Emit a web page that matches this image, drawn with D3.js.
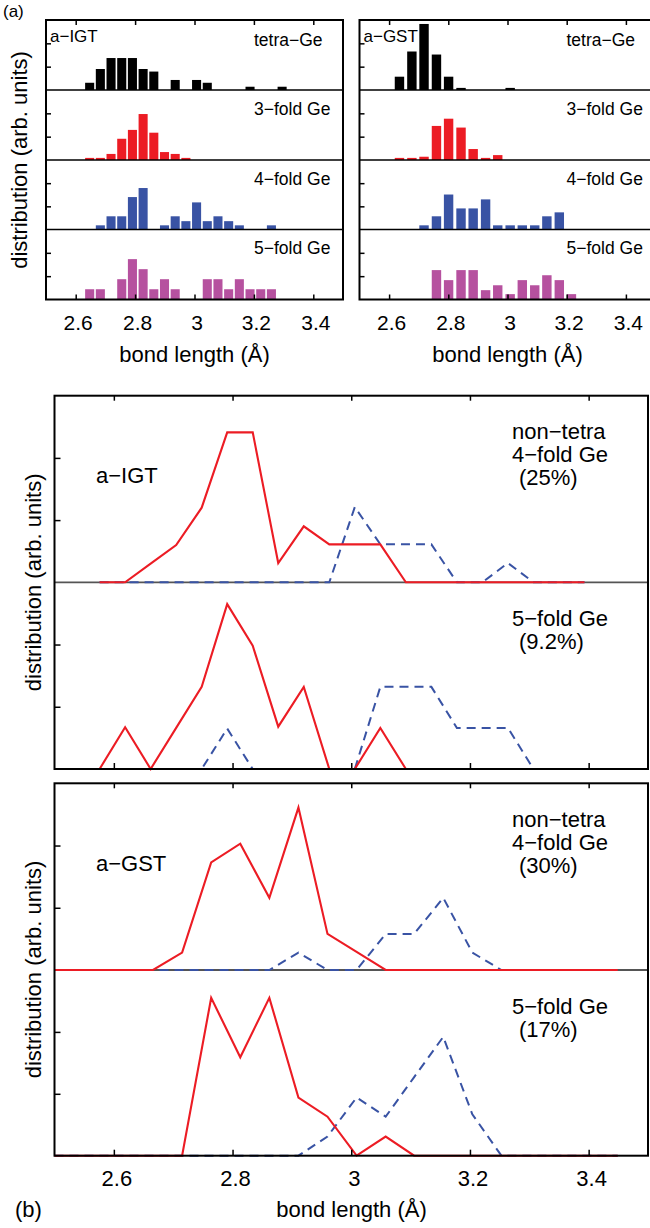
<!DOCTYPE html>
<html><head><meta charset="utf-8">
<script src="https://cdn.jsdelivr.net/npm/d3@7"></script>
<style>
body{margin:0;background:#fff}
svg{display:block;font-family:"Liberation Sans",Arial,Helvetica,sans-serif}
</style>
</head><body>
<script>
// ================= DATA =================
const xTicks = [2.6, 2.8, 3.0, 3.2, 3.4];
const yTicks = [1, 2];
const subLabelsA = ["tetra−Ge", "3−fold Ge", "4−fold Ge", "5−fold Ge"];

// (a) a-IGT histograms
const igtBins   = [2.647,2.683,2.719,2.755,2.791,2.827,2.863,2.899,2.935,2.971,3.007,3.043,3.079,3.115,3.151,3.187,3.223,3.259,3.295];
const igtTetra  = [0.31,0.90,1.37,1.37,1.37,0.90,0.79,0,0.43,0,0.43,0.31,0,0,0,0.14,0,0,0.14];
const igtThree  = [0.09,0.09,0.26,0.91,1.29,1.97,1.17,0.34,0.26,0.09,0,0,0,0,0,0,0,0,0];
const igtFour   = [0,0.18,0.57,0.57,1.40,1.79,0,0.18,0.57,0.36,1.17,0.36,0.57,0.36,0.18,0,0,0.18,0];
const igtFive   = [0.44,0.44,0,0.87,1.73,1.30,0.44,0.87,0.44,0,0,0.87,0.87,0.44,0.87,0.44,0.44,0.44,0];

// (a) a-GST histograms
const gstBins   = [2.635,2.677,2.718,2.760,2.801,2.843,2.884,2.926,2.967,3.009,3.050,3.092,3.133,3.175,3.216];
const gstTetra  = [0.57,1.65,2.83,1.52,0.57,0.09,0,0,0,0.09,0,0,0,0,0];
const gstThree  = [0.09,0.09,0.14,1.46,1.77,1.39,0.47,0.09,0.21,0,0,0,0,0,0];
const gstFour   = [0,0,0.18,0.57,1.51,0.91,0.91,1.30,0.18,0.18,0.18,0.18,0.57,0.74,0];
const gstFive   = [0,0,0,1.26,0.83,1.26,1.26,0.40,0.61,0.23,0.83,0.61,1.04,0.83,0.23];

// (b) a-IGT curves
const igtGrid          = [2.576,2.619,2.662,2.705,2.748,2.791,2.834,2.877,2.920,2.963,3.006,3.049,3.092,3.135,3.178,3.221,3.264,3.307,3.350,3.393];
const igtNonTetraRed   = [0,0,0.30,0.60,1.20,2.41,2.41,0.31,0.90,0.61,0.61,0.61,0,0,0,0,0,0,0,0];
const igtNonTetraBlue  = [0,0,0,0,0,0,0,0,0,0,1.21,0.61,0.61,0.61,0,0,0.31,0,0,0];
const igtFiveRed       = [0,0.67,0,0.66,1.32,2.65,1.98,0.68,1.32,0,0,0.66,0,0,0,0,0,0,0,0];
const igtFiveBlue      = [0,0,0,0,0,0.65,0,0,0,0,0,1.32,1.32,1.32,0.66,0.66,0.66,0,0,0];

// (b) a-GST curves
const gstGrid          = [2.500,2.568,2.617,2.666,2.715,2.764,2.813,2.862,2.911,2.960,3.009,3.058,3.106,3.155,3.204,3.253,3.302,3.351,3.400,3.449];
const gstNonTetraRed   = [0,0,0,0,0.28,1.73,2.03,1.16,2.61,0.58,0.29,0,0,0,0,0,0,0,0,0];
const gstNonTetraBlue  = [0,0,0,0,0,0,0,0,0.28,0,0,0.58,0.58,1.16,0.28,0,0,0,0,0];
const gstFiveRed       = [0,0,0,0,0,2.55,1.59,2.55,0.94,0.63,0,0.31,0,0,0,0,0,0,0,0];
const gstFiveBlue      = [0,0,0,0,0,0,0,0,0,0.31,0.94,0.63,1.27,1.92,0.67,0,0,0,0,0];

// ================= STYLE =================
const colA = ["#000000", "#ec1c24", "#3953a4", "#b6519f"];
const RED = "#ec1c24", BLUE = "#3953a4";
const W = 650, H = 1228;

const svg = d3.select("body").append("svg").attr("width", W).attr("height", H);
svg.append("rect").attr("width", W).attr("height", H).attr("fill", "#fff");

const fmt = d => String(+d.toFixed(1));

// ================= PANEL (a) =================
const aTops = [20, 90, 160, 229.5], aBottoms = [90, 160, 229.5, 299.5];

function drawA(xRange, bins, series, sample, labelX, barW) {
  const x = d3.scaleLinear().domain([2.5, 3.5]).range(xRange);
  const g = svg.append("g");
  series.forEach((vals, i) => {
    const y = d3.scaleLinear().domain([0, 3]).range([aBottoms[i], aTops[i]]);
    const data = bins.map((c, k) => ({c, v: vals[k]})).filter(d => d.v > 0);
    g.selectAll(null).data(data).enter().append("rect")
      .attr("x", d => x(d.c - barW / 2))
      .attr("width", d => x(d.c + barW / 2) - x(d.c - barW / 2))
      .attr("y", d => y(d.v))
      .attr("height", d => y(0) - y(d.v))
      .attr("fill", colA[i]);
    const ax = g.append("g").attr("transform", `translate(${xRange[0]},0)`)
      .call(d3.axisLeft(y).tickValues(yTicks).tickSize(-5).tickFormat(""));
    ax.select(".domain").remove();
    ax.selectAll("line").attr("stroke", "#000").attr("stroke-width", 1.5);
    g.append("text").attr("x", labelX).attr("y", [46, 115, 185, 254.3][i])
      .attr("font-size", 17.5).text(subLabelsA[i]);
    if (i > 0) g.append("line").attr("x1", xRange[0]).attr("x2", xRange[1])
      .attr("y1", aTops[i]).attr("y2", aTops[i]).attr("stroke", "#000").attr("stroke-width", 1.6);
  });
  const top = g.append("g").attr("transform", `translate(0,${aTops[0]})`)
    .call(d3.axisTop(x).tickValues(xTicks).tickSize(-5).tickFormat(""));
  top.select(".domain").remove();
  top.selectAll("line").attr("stroke", "#000").attr("stroke-width", 1.5);
  const bot = g.append("g").attr("transform", `translate(0,${aBottoms[3]})`)
    .call(d3.axisBottom(x).tickValues(xTicks).tickSize(-5).tickFormat(fmt));
  bot.select(".domain").remove();
  bot.selectAll("line").attr("stroke", "#000").attr("stroke-width", 1.5);
  bot.selectAll("text").attr("y", 30.5).attr("dy", 0).attr("x", 2)
    .attr("font-size", 21).attr("fill", "#000").attr("font-family", "Liberation Sans, Arial, sans-serif");
  g.append("rect").attr("x", xRange[0]).attr("y", aTops[0])
    .attr("width", xRange[1] - xRange[0]).attr("height", aBottoms[3] - aTops[0])
    .attr("fill", "none").attr("stroke", "#000").attr("stroke-width", 2);
  g.append("text").attr("x", xRange[0] + 4).attr("y", 41.5).attr("font-size", 17).text(sample);
  g.append("text").attr("x", (xRange[0] + xRange[1]) / 2).attr("y", 362)
    .attr("text-anchor", "middle").attr("font-size", 22).text("bond length (Å)");
}

drawA([46, 343], igtBins, [igtTetra, igtThree, igtFour, igtFive], "a−IGT", 254, 0.0305);
drawA([359.5, 655.5], gstBins, [gstTetra, gstThree, gstFour, gstFive], "a−GST", 566.5, 0.0318);

svg.append("text").attr("x", 3).attr("y", 17).attr("font-size", 17).text("(a)");
svg.append("text").attr("transform", "translate(19,160) rotate(-90)").attr("dy", "0.35em")
  .attr("text-anchor", "middle").attr("font-size", 22).text("distribution (arb. units)");

// ================= PANEL (b) =================
const xb = d3.scaleLinear().domain([2.5, 3.5]).range([54.5, 648]);
const line = (grid, ys) => d3.line().x((d, k) => xb(grid[k])).y(d => ys(d));

function drawB(top, sep, bottom, grid, upper, lower, sample, upperText, lowerText) {
  const g = svg.append("g");
  g.append("line").attr("x1", xb.range()[0]).attr("x2", xb.range()[1])
    .attr("y1", sep).attr("y2", sep).attr("stroke", "#555").attr("stroke-width", 1.8);
  const subs = [[top, sep, upper], [sep, bottom, lower]];
  subs.forEach(([t, b, pair]) => {
    const y = d3.scaleLinear().domain([0, 3]).range([b, t]);
    const ax = g.append("g").attr("transform", `translate(${xb.range()[0]},0)`)
      .call(d3.axisLeft(y).tickValues(yTicks).tickSize(-6).tickFormat(""));
    ax.select(".domain").remove();
    ax.selectAll("line").attr("stroke", "#000").attr("stroke-width", 1.5);
    g.append("path").datum(pair[1]).attr("d", line(grid, y)).attr("fill", "none")
      .attr("stroke", BLUE).attr("stroke-width", 2).attr("stroke-dasharray", "9,6");
    g.append("path").datum(pair[0]).attr("d", line(grid, y)).attr("fill", "none")
      .attr("stroke", RED).attr("stroke-width", 2.1);
  });
  const tp = g.append("g").attr("transform", `translate(0,${top})`)
    .call(d3.axisTop(xb).tickValues(xTicks).tickSize(-5).tickFormat(""));
  tp.select(".domain").remove();
  tp.selectAll("line").attr("stroke", "#000").attr("stroke-width", 1.5);
  const bt = g.append("g").attr("transform", `translate(0,${bottom})`)
    .call(d3.axisBottom(xb).tickValues(xTicks).tickSize(-6).tickFormat(""));
  bt.select(".domain").remove();
  bt.selectAll("line").attr("stroke", "#000").attr("stroke-width", 1.5);
  g.append("rect").attr("x", xb.range()[0]).attr("y", top)
    .attr("width", xb.range()[1] - xb.range()[0]).attr("height", bottom - top)
    .attr("fill", "none").attr("stroke", "#000").attr("stroke-width", 2);
  g.append("text").attr("x", 96).attr("y", top + 87.5).attr("font-size", 22).text(sample);
  upperText.forEach((s, j) => g.append("text").attr("x", s.startsWith("(") ? 519 : 512)
    .attr("y", top + 43.5 + j * 23).attr("font-size", 22).text(s));
  lowerText.forEach((s, j) => g.append("text").attr("x", s.startsWith("(") ? 519 : 512)
    .attr("y", sep + 43.5 + j * 23.5).attr("font-size", 22).text(s));
  g.append("text").attr("transform", `translate(33,${(top + bottom) / 2}) rotate(-90)`).attr("dy", "0.35em")
    .attr("text-anchor", "middle").attr("font-size", 22).text("distribution (arb. units)");
}

drawB(395.7, 582.3, 769, igtGrid, [igtNonTetraRed, igtNonTetraBlue], [igtFiveRed, igtFiveBlue],
  "a−IGT", ["non−tetra", "4−fold Ge", "(25%)"], ["5−fold Ge", "(9.2%)"]);
drawB(783.3, 970, 1155.7, gstGrid, [gstNonTetraRed, gstNonTetraBlue], [gstFiveRed, gstFiveBlue],
  "a−GST", ["non−tetra", "4−fold Ge", "(30%)"], ["5−fold Ge", "(17%)"]);

const bl = svg.append("g").attr("transform", "translate(0,1155.7)")
  .call(d3.axisBottom(xb).tickValues(xTicks).tickSize(0).tickFormat(fmt));
bl.select(".domain").remove();
bl.selectAll("text").attr("y", 30.5).attr("dy", 0).attr("x", 2.5).attr("font-size", 22)
  .attr("fill", "#000").attr("font-family", "Liberation Sans, Arial, sans-serif");
svg.append("text").attr("x", 351.5).attr("y", 1217).attr("text-anchor", "middle")
  .attr("font-size", 22).text("bond length (Å)");
svg.append("text").attr("x", 15).attr("y", 1217).attr("font-size", 22).text("(b)");
</script>
</body></html>
